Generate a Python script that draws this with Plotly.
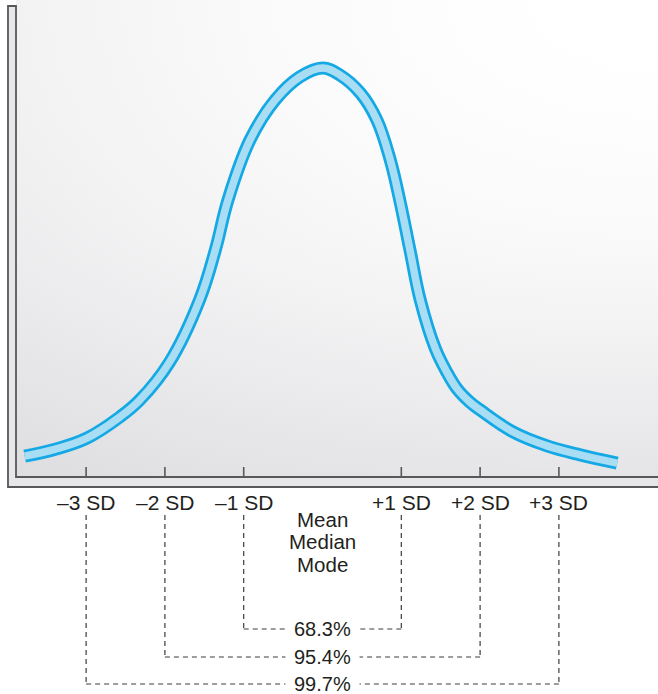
import plotly.graph_objects as go

# bell curve: position in SD units, height as % of the peak
curve_sd = [-3.78, -3.39, -2.99, -2.57, -2.32, -1.94, -1.56, -1.36, -1.20, -0.92,
            -0.60, -0.29, 0.0, 0.22, 0.48, 0.69, 0.86, 0.98, 1.11, 1.24,
            1.43, 1.57, 1.71, 1.87, 2.00, 2.42, 2.85, 3.27, 3.74]
curve_h = [5.1, 6.8, 9.5, 14.7, 18.8, 28.1, 43.3, 55.5, 67.7, 82.4,
           92.2, 97.8, 100.0, 98.3, 93.9, 87.3, 77.5, 67.7, 55.5, 43.3,
           31.5, 25.9, 21.5, 18.3, 16.4, 11.0, 7.6, 5.4, 3.4]

tick_sd = [-3, -2, -1, 1, 2, 3]
tick_labels = ["\u20133 SD", "\u20132 SD", "\u20131 SD", "+1 SD", "+2 SD", "+3 SD"]
center_labels = ["Mean", "Median", "Mode"]
bracket_sd = [1, 2, 3]
bracket_labels = ["68.3%", "95.4%", "99.7%"]

# page geometry (pixels)
W, H = 658, 694
MEAN_PX = 322.5
PX_PER_SD = 78.8
BASE_PX = 477
PX_PER_PCT = 4.09


def sd_of(px):
    return (px - MEAN_PX) / PX_PER_SD


def y_of(py):
    return (BASE_PX - py) / PX_PER_PCT


x_range = [sd_of(0), sd_of(W)]
y_range = [y_of(H), y_of(0)]

FONT = "Liberation Sans, Arial, Helvetica, sans-serif"
TXT = "#231f20"
DASH = "#3c3c3c"

fig = go.Figure()

# background shading, darker toward the bottom left
bx0, bx1 = sd_of(16), x_range[1]
by0, by1 = y_of(BASE_PX), y_range[1]
fig.add_trace(go.Scatter(
    x=[bx0, bx1, bx1, bx0, bx0], y=[by0, by0, by1, by1, by0],
    mode="lines", line=dict(width=0), fill="toself",
    fillgradient=dict(type="vertical", colorscale=[
        [0, "rgba(190,190,196,0.40)"], [0.45, "rgba(200,200,205,0.13)"],
        [1, "rgba(255,255,255,0)"]]),
    hoverinfo="skip", showlegend=False))
fig.add_trace(go.Scatter(
    x=[bx0, bx1, bx1, bx0, bx0], y=[by0, by0, by1, by1, by0],
    mode="lines", line=dict(width=0), fill="toself",
    fillgradient=dict(type="horizontal", colorscale=[
        [0, "rgba(195,195,200,0.22)"], [0.6, "rgba(220,220,224,0.06)"],
        [1, "rgba(255,255,255,0)"]]),
    hoverinfo="skip", showlegend=False))

# the curve as an outlined band
fig.add_trace(go.Scatter(x=curve_sd, y=curve_h, mode="lines",
                         line=dict(color="#14a9e4", width=13, shape="spline", smoothing=1.1),
                         hoverinfo="skip", showlegend=False))
fig.add_trace(go.Scatter(x=curve_sd, y=curve_h, mode="lines",
                         line=dict(color="#a9ddf4", width=7.5, shape="spline", smoothing=1.1),
                         hoverinfo="skip", showlegend=False))

shapes = []


# L-shaped axis bar
def pp(px, py):
    return f"{px / W:.5f},{1 - py / H:.5f}"


shapes.append(dict(
    type="path", xref="paper", yref="paper",
    path=f"M{pp(8, 6)} L{pp(16, 6)} L{pp(16, 477)} L{pp(662, 477)} L{pp(662, 487)} L{pp(8, 487)} Z",
    fillcolor="#e7e7e9", line=dict(color="#58585a", width=1.8)))

# tick marks
for t in tick_sd:
    shapes.append(dict(type="line", xref="x", yref="y", x0=t, x1=t,
                       y0=y_of(467), y1=y_of(477), line=dict(color="#58585a", width=1.6)))

# dashed brackets
bracket_py = [629, 657, 684]
gap = 0.47
for k, py in zip(bracket_sd, bracket_py):
    dash = dict(color=DASH, width=1.2, dash="5px,4px")
    for s in (-1, 1):
        shapes.append(dict(type="line", xref="x", yref="y", x0=s * k, x1=s * k,
                           y0=y_of(515), y1=y_of(py), line=dash))
        shapes.append(dict(type="line", xref="x", yref="y", x0=s * k, x1=s * gap,
                           y0=y_of(py), y1=y_of(py), line=dash))

annotations = []
for t, lab in zip(tick_sd, tick_labels):
    annotations.append(dict(x=t, y=y_of(502), text=lab, showarrow=False,
                            xanchor="center", yanchor="middle",
                            font=dict(family=FONT, size=21, color=TXT)))
for i, lab in enumerate(center_labels):
    annotations.append(dict(x=0, y=y_of(519 + 22.5 * i), text=lab, showarrow=False,
                            xanchor="center", yanchor="middle", borderpad=0,
                            font=dict(family=FONT, size=20.5, color=TXT)))
for lab, py in zip(bracket_labels, bracket_py):
    annotations.append(dict(x=0, y=y_of(py), text=lab, showarrow=False,
                            xanchor="center", yanchor="middle", borderpad=0,
                            font=dict(family=FONT, size=20, color=TXT)))

fig.update_layout(
    width=W, height=H, margin=dict(l=0, r=0, t=0, b=0),
    paper_bgcolor="white", plot_bgcolor="white",
    xaxis=dict(range=x_range, visible=False, fixedrange=True),
    yaxis=dict(range=y_range, visible=False, fixedrange=True),
    shapes=shapes, annotations=annotations, showlegend=False,
)

# drop the page's default body margin so the figure sits at the top-left corner
fig.write_html("out.html", config={"displayModeBar": False},
               post_script="document.body.style.margin='0';")
